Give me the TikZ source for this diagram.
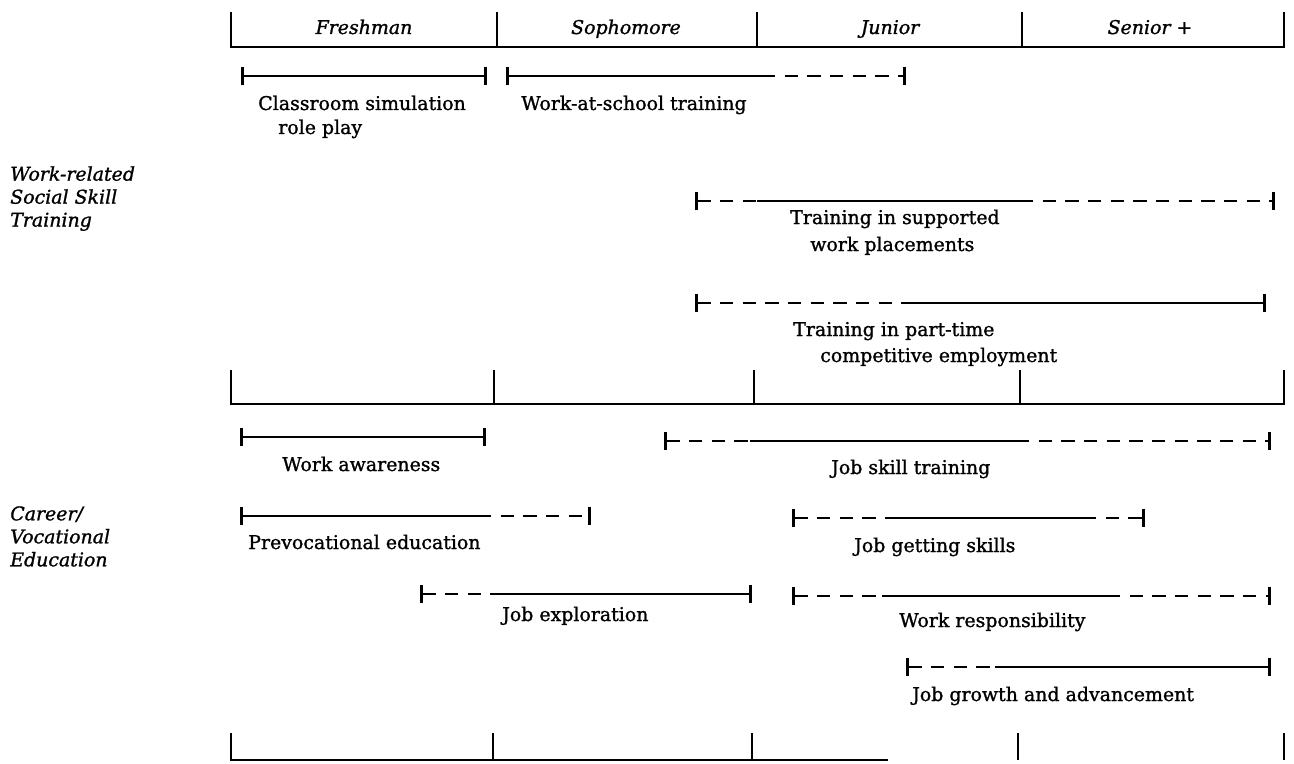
\documentclass[tikz,border=0pt]{standalone}
\usepackage{fontspec}
\setmainfont{DejaVu Serif}[UprightFeatures={FakeBold=1.2},ItalicFeatures={FakeBold=1.2}]
\usetikzlibrary{arrows.meta}
\begin{document}
\begin{tikzpicture}[x=0.75pt,y=-0.75pt,
  bar/.style={line width=1.8pt},
  dashbar/.style={bar, dash pattern=on 10pt off 7pt},
  axis/.style={line width=1.5pt},
  lab/.style={font=\fontsize{14.2}{17}\selectfont, inner sep=0pt, anchor=base west},
  head/.style={font=\fontsize{14.2}{17}\selectfont\itshape, inner sep=0pt, anchor=base},
  side/.style={font=\fontsize{14.2}{17.25}\selectfont\itshape, inner sep=0pt, anchor=north west, align=left},
  st/.style={{Bar[width=14pt,line width=2.2pt]}-},
  en/.style={-{Bar[width=14pt,line width=2.2pt]}},
  se/.style={{Bar[width=14pt,line width=2.2pt]}-{Bar[width=14pt,line width=2.2pt]}}
]
\useasboundingbox (0,0) rectangle (1294,763);

% ---------- axes ----------
\coordinate (t0) at (231,47); \coordinate (t1) at (497,47); \coordinate (t2) at (757,47);
\coordinate (t3) at (1022,47); \coordinate (t4) at (1284,47);
\draw[axis] ([yshift=35*0.75pt]t0) -- (t0) -- (t4) -- ([yshift=35*0.75pt]t4);
\foreach \c in {t1,t2,t3} \draw[axis] (\c) -- ++(0,-35);

\coordinate (m0) at (231,404); \coordinate (m1) at (494,404); \coordinate (m2) at (754,404);
\coordinate (m3) at (1020,404); \coordinate (m4) at (1284,404);
\draw[axis] ([yshift=34*0.75pt]m0) -- (m0) -- (m4) -- ([yshift=34*0.75pt]m4);
\foreach \c in {m1,m2,m3} \draw[axis] (\c) -- ++(0,-34);

\coordinate (b0) at (231,760); \coordinate (b1) at (493,760); \coordinate (b2) at (752,760);
\coordinate (b3) at (1018,760); \coordinate (b4) at (1284,760); \coordinate (bend) at (888,760);
\draw[axis] ([yshift=27*0.75pt]b0) -- (b0) -- (bend);
\foreach \c in {b1,b2,b3,b4} \draw[axis] (\c) -- ++(0,-27);

% ---------- headers ----------
\node[head] (fr) at (364,34) {Freshman};
\node[head] (so) at (626,34) {Sophomore};
\node[head] (ju) at (890,34) {Junior};
\node[head] (sn) at (1150,34) {Senior +};

% ---------- side labels ----------
\node[side] (wr) at (10,166) {Work-related\\Social Skill\\Training};
\node[side] (cv) at (10,506) {Career/\\Vocational\\Education};

% ---------- work-related bars ----------
\coordinate (c1) at (241,76); \coordinate (c2) at (487,76);
\draw[bar,se] (c1) -- (c2);
\node[lab] (ct1) at (258,110) {Classroom simulation};
\node[lab] (ct2) at (278,134) {role play};

\coordinate (w1) at (506,76); \coordinate (w2) at (762,76); \coordinate (w3) at (906,76);
\draw[bar,st] (w1) -- (w2);
\draw[dashbar,en] (w2) -- (w3);
\node[lab] (wt) at (521,110) {Work-at-school training};

\coordinate (s1) at (695,201); \coordinate (s2) at (757,201); \coordinate (s3) at (1020,201); \coordinate (s4) at (1275,201);
\draw[dashbar,st] (s1) -- (s2);
\draw[bar] (s2) -- (s3);
\draw[dashbar,en] (s3) -- (s4);
\node[lab] (stx1) at (790,224) {Training in supported};
\node[lab] (stx2) at (810,251) {work placements};

\coordinate (p1) at (695,303); \coordinate (p2) at (902,303); \coordinate (p3) at (1266,303);
\draw[dashbar,st] (p1) -- (p2);
\draw[bar,en] (p2) -- (p3);
\node[lab] (pt1) at (793,336) {Training in part-time};
\node[lab] (pt2) at (820,362) {competitive employment};

% ---------- career bars ----------
\coordinate (a1) at (240,437); \coordinate (a2) at (486,437);
\draw[bar,se] (a1) -- (a2);
\node[lab] (at) at (282,471) {Work awareness};

\coordinate (j1) at (664,441); \coordinate (j2) at (750,441); \coordinate (j3) at (1016,441); \coordinate (j4) at (1271,441);
\draw[dashbar,st] (j1) -- (j2);
\draw[bar] (j2) -- (j3);
\draw[dashbar,en] (j3) -- (j4);
\node[lab] (jt) at (831,474) {Job skill training};

\coordinate (v1) at (240,516); \coordinate (v2) at (478,516); \coordinate (v3) at (591,516);
\draw[bar,st] (v1) -- (v2);
\draw[dashbar,en] (v2) -- (v3);
\node[lab] (vt) at (248,549) {Prevocational education};

\coordinate (g1) at (792,518); \coordinate (g2) at (886,518); \coordinate (g3) at (1083,518); \coordinate (g4) at (1145,518);
\draw[dashbar,st] (g1) -- (g2);
\draw[bar] (g2) -- (g3);
\draw[dashbar,en] (g3) -- (g4);
\node[lab] (gt) at (854,552) {Job getting skills};

\coordinate (e1) at (420,594); \coordinate (e2) at (495,594); \coordinate (e3) at (752,594);
\draw[dashbar,st] (e1) -- (e2);
\draw[bar,en] (e2) -- (e3);
\node[lab] (et) at (502,621) {Job exploration};

\coordinate (r1) at (792,596); \coordinate (r2) at (882,596); \coordinate (r3) at (1107,596); \coordinate (r4) at (1271,596);
\draw[dashbar,st] (r1) -- (r2);
\draw[bar] (r2) -- (r3);
\draw[dashbar,en] (r3) -- (r4);
\node[lab] (rt) at (899,627) {Work responsibility};

\coordinate (q1) at (906,667); \coordinate (q2) at (995,667); \coordinate (q3) at (1271,667);
\draw[dashbar,st] (q1) -- (q2);
\draw[bar,en] (q2) -- (q3);
\node[lab] (qt) at (912,701) {Job growth and advancement};
\end{tikzpicture}
\end{document}
